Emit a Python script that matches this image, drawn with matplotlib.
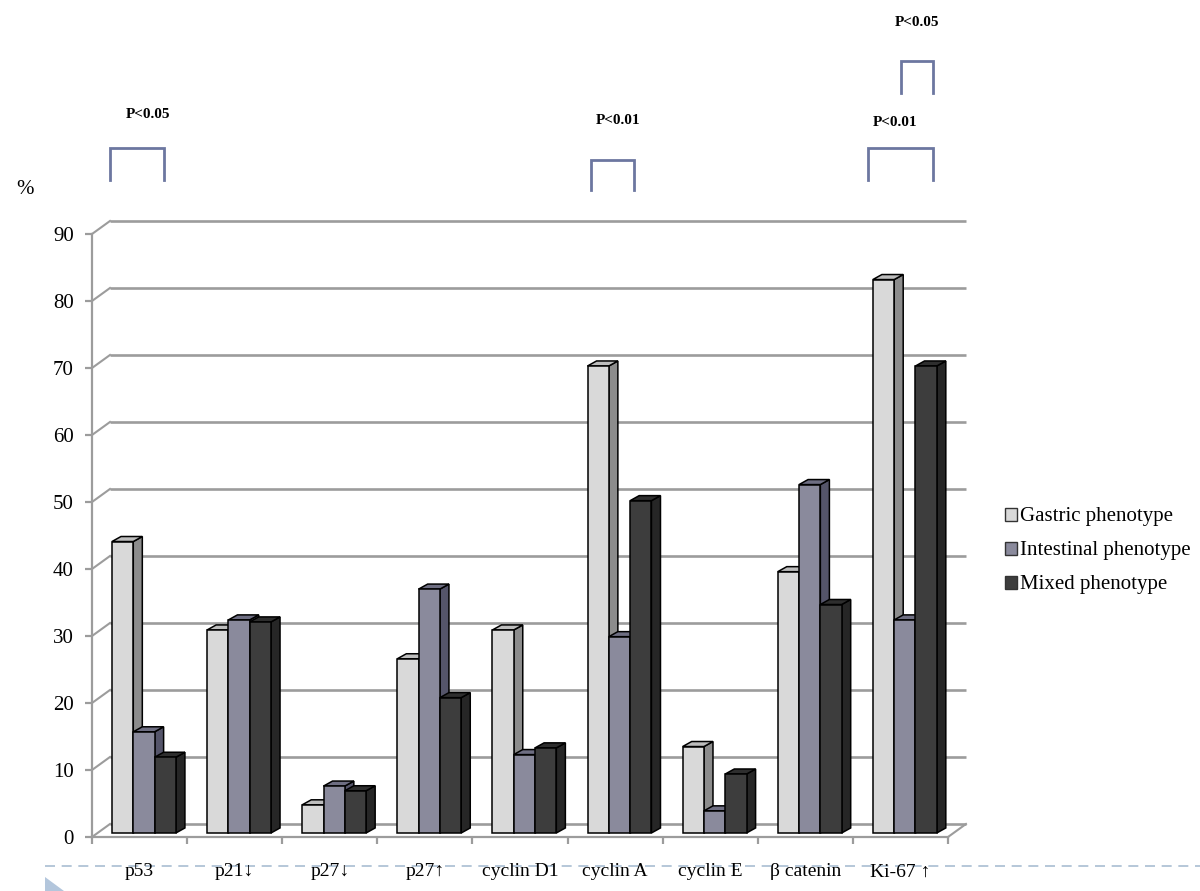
import numpy as np
import matplotlib
matplotlib.use('Agg')
from matplotlib import pyplot as plt
from matplotlib.patches import Polygon, Patch

plt.rcParams['font.family'] = ['Liberation Serif', 'DejaVu Serif']

categories = ['p53', 'p21\u2193', 'p27\u2193', 'p27\u2191', 'cyclin D1',
              'cyclin A', 'cyclin E', '\u03b2 catenin', 'Ki-67 \u2191']
series_names = ['Gastric phenotype', 'Intestinal phenotype', 'Mixed phenotype']
gastric = [43.5, 30.3, 4.2, 26.0, 30.3, 69.7, 12.9, 39.0, 82.6]
intestinal = [15.1, 31.8, 7.0, 36.4, 11.7, 29.3, 3.3, 52.0, 31.8]
mixed = [11.3, 31.5, 6.3, 20.2, 12.7, 49.6, 8.8, 34.1, 69.7]
yticks = [0, 10, 20, 30, 40, 50, 60, 70, 80, 90]

# significance brackets: (left category pos, right category pos, bottom value, top value, label)
brackets = [
    (0.19, 0.76, 98.0, 102.8, 'P<0.05'),
    (5.25, 5.70, 96.5, 101.0, 'P<0.01'),
    (8.16, 8.84, 98.0, 102.8, 'P<0.01'),
    (8.51, 8.84, 111.0, 115.8, 'P<0.05'),
]

front_col = ['#d9d9d9', '#8a8a9c', '#3d3d3d']
top_col = ['#bdbdbd', '#6e6e82', '#2e2e2e']
side_col = ['#8c8c8c', '#55556a', '#262626']
grid_col = '#9c9c9c'
bracket_col = '#6c77a0'

fig = plt.figure(figsize=(12, 8.91), dpi=100)
ax = fig.add_axes([92 / 1200, 54 / 891, 856 / 1200, 603 / 891])
ax.set_xlim(0, 9)
ax.set_ylim(0, 90)
ax.patch.set_visible(False)

# depth of the wall and of the bars (in data units)
wdx, wdy = 0.189, 1.94
bdx, bdy = 0.095, 0.75
base = 0.6
x0, bw = 0.21, 0.224

# back wall gridlines
for v in yticks:
    ax.plot([wdx, 9 + wdx], [v + wdy, v + wdy], color=grid_col, lw=1.9,
            clip_on=False, zorder=1, solid_capstyle='butt')
    ax.plot([0, wdx], [v, v + wdy], color=grid_col, lw=1.5, clip_on=False, zorder=1)
ax.plot([9, 9 + wdx], [0, wdy], color=grid_col, lw=1.5, clip_on=False, zorder=1)

# 3d-ish bars
values = [gastric, intestinal, mixed]
z = 3
for i in range(len(categories)):
    for s in range(3):
        v = values[s][i]
        xl = i + x0 + s * bw
        xr = xl + bw
        yb, yt = base, base + v
        front = Polygon([(xl, yb), (xr, yb), (xr, yt), (xl, yt)], closed=True,
                        fc=front_col[s], ec='black', lw=1.1, zorder=z, clip_on=False)
        top = Polygon([(xl, yt), (xr, yt), (xr + bdx, yt + bdy), (xl + bdx, yt + bdy)],
                      closed=True, fc=top_col[s], ec='black', lw=1.1, zorder=z, clip_on=False)
        side = Polygon([(xr, yb), (xr + bdx, yb + bdy), (xr + bdx, yt + bdy), (xr, yt)],
                       closed=True, fc=side_col[s], ec='black', lw=1.1, zorder=z, clip_on=False)
        ax.add_patch(side)
        ax.add_patch(top)
        ax.add_patch(front)
        z += 1

# axes styling
for sp in ['top', 'right']:
    ax.spines[sp].set_visible(False)
for sp in ['left', 'bottom']:
    ax.spines[sp].set_color(grid_col)
    ax.spines[sp].set_linewidth(1.6)
    ax.spines[sp].set_zorder(2)
ax.set_yticks(yticks)
ax.set_yticklabels([str(t) for t in yticks], fontsize=15)
ax.set_xticks(range(10))
ax.set_xticklabels([])
ax.set_xticks(np.arange(9) + 0.5, minor=True)
ax.set_xticklabels(categories, minor=True, fontsize=14)
ax.tick_params(axis='both', which='major', color=grid_col, width=1.6, length=5, direction='out')
ax.tick_params(axis='y', pad=8)
ax.tick_params(axis='x', which='minor', length=0, pad=19)

ax.text(-0.7, 96.6, '%', fontsize=15, ha='center', va='center')

# significance brackets
for xl, xr, yb, yt, lab in brackets:
    ax.plot([xl, xl, xr, xr], [yb, yt, yt, yb], color=bracket_col, lw=2.0,
            clip_on=False, solid_joinstyle='miter')
for (xl, xr, yb, yt, lab), lx, ly in zip(brackets, [0.59, 5.53, 8.44, 8.67],
                                          [107.9, 106.9, 106.6, 121.5]):
    ax.text(lx, ly, lab, fontsize=11, fontweight='bold', ha='center', va='center')

handles = [Patch(fc=front_col[s], ec='#333333', lw=1.0) for s in range(3)]
fig.legend(handles, series_names, loc='center left', bbox_to_anchor=(986 / 1200, 1 - 551 / 891),
           frameon=False, prop={'family': 'Liberation Serif', 'size': 15},
           handlelength=0.6, handleheight=0.6, handletextpad=0.15, labelspacing=0.72)

# slide decoration
fig.add_artist(plt.Line2D([45 / 1200, 1], [1 - 866 / 891, 1 - 866 / 891], transform=fig.transFigure,
                          color='#a9bdd2', lw=1.2, ls=(0, (6, 4)), zorder=0))
fig.add_artist(Polygon([(45 / 1200, 1 - 877 / 891), (45 / 1200, 0), (64 / 1200, 0)],
                       closed=True, transform=fig.transFigure, fc='#b3c6dc', ec='none'))

fig.savefig('out.png', dpi=100)
